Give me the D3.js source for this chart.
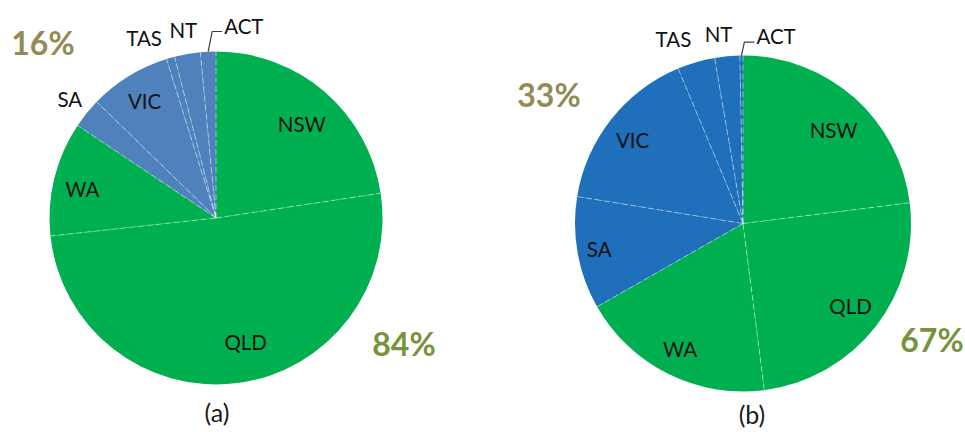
<!DOCTYPE html>
<html><head><meta charset="utf-8">
<script src="https://cdn.jsdelivr.net/npm/d3@7"></script>
<style>
html,body{margin:0;padding:0;background:#fff;}
svg{display:block;}
text{font-family:Lato,"Open Sans",sans-serif;}
</style></head>
<body>
<svg id="c" width="965" height="432"></svg>
<script>
// ---- data ----
const states = ["NSW","QLD","WA","SA","VIC","TAS","NT","ACT"];
const valuesA = [22.6, 50.6, 11.1, 2.9, 7.9, 0.8, 2.5, 1.5];
const valuesB = [23.0, 24.9, 18.75, 10.8, 16.1, 3.6, 2.4, 0.3];
const groupA = ["g","g","g","b","b","b","b","b"];
const totalsA = ["84%", "16%"];
const totalsB = ["67%", "33%"];
const captions = ["(a)", "(b)"];

const svg = d3.select("#c");
const green = "#00B050";

function drawPie(cfg){
  const g = svg.append("g").attr("transform",`translate(${cfg.cx},${cfg.cy})`);
  const data = states.map((s,i)=>({name:s, value:cfg.values[i], grp:groupA[i]}));
  const pie = d3.pie().sort(null).value(d=>d.value).startAngle(0).endAngle(2*Math.PI);
  const arcs = pie(data);
  const arc = d3.arc().innerRadius(0).outerRadius(cfg.r);
  g.selectAll("path.s").data(arcs).join("path")
    .attr("class","s")
    .attr("d",arc)
    .attr("fill",d=>d.data.grp==="g"?green:cfg.blue);
  g.selectAll("line.sep").data(arcs).join("line")
    .attr("x1",0).attr("y1",0)
    .attr("x2",d=>cfg.r*Math.sin(d.startAngle))
    .attr("y2",d=>-cfg.r*Math.cos(d.startAngle))
    .attr("stroke","rgba(255,255,255,0.45)")
    .attr("stroke-width",1)
    .attr("stroke-dasharray","6,3");
  arcs.forEach(d=>{
    const name = d.data.name;
    const mid = (d.startAngle+d.endAngle)/2;
    const lab = cfg.labels[name];
    if(lab.leader){
      const sx = cfg.r*Math.sin(mid), sy = -cfg.r*Math.cos(mid);
      const ey = -cfg.r*lab.rf;
      const ex = sx + lab.dx;
      g.append("polyline")
        .attr("points",`${sx},${sy} ${ex},${ey} ${ex+10},${ey}`)
        .attr("fill","none").attr("stroke","#404040").attr("stroke-width",1.2);
      g.append("text").attr("x",ex+12).attr("y",ey).attr("dy","0.1em")
        .attr("font-size",cfg.fs).attr("fill","#111").text(name);
    } else {
      const a = mid + (lab.da||0)*Math.PI/180;
      const rr = cfg.r*lab.rf;
      g.append("text")
        .attr("x",rr*Math.sin(a)).attr("y",-rr*Math.cos(a))
        .attr("dy","0.35em").attr("text-anchor","middle")
        .attr("font-size",cfg.fs).attr("fill","#111").text(name);
    }
  });
}

drawPie({cx:216, cy:218, r:166.5, values:valuesA, blue:"#4F81BD", fs:20.5,
  labels:{NSW:{rf:0.76,da:2},QLD:{rf:0.77,da:-6},WA:{rf:0.82,da:-2},SA:{rf:1.13},VIC:{rf:0.82},
          TAS:{rf:1.16,da:-6},NT:{rf:1.14},ACT:{leader:true,rf:1.12,dx:4}}});
drawPie({cx:743, cy:223.5, r:168, values:valuesB, blue:"#1F6FBA", fs:20.5,
  labels:{NSW:{rf:0.77,da:3},QLD:{rf:0.81},WA:{rf:0.84},SA:{rf:0.87},VIC:{rf:0.82,da:-1.5},
          TAS:{rf:1.17,da:-4.5},NT:{rf:1.13,da:-2},ACT:{leader:true,rf:1.08,dx:3}}});

const pctStyle = (t)=>t.attr("font-weight","bold").attr("font-size",32).attr("text-anchor","middle");
pctStyle(svg.append("text").attr("x",404).attr("y",356).attr("fill","#77933C").text(totalsA[0]));
pctStyle(svg.append("text").attr("x",43).attr("y",55).attr("fill","#948A54").text(totalsA[1]));
pctStyle(svg.append("text").attr("x",932).attr("y",352).attr("fill","#77933C").text(totalsB[0]));
pctStyle(svg.append("text").attr("x",549).attr("y",107).attr("fill","#948A54").text(totalsB[1]));

svg.append("text").attr("x",217).attr("y",422).attr("text-anchor","middle").attr("font-size",25).attr("fill","#1a1a1a").text(captions[0]);
svg.append("text").attr("x",752).attr("y",424).attr("text-anchor","middle").attr("font-size",25).attr("fill","#1a1a1a").text(captions[1]);
</script>
</body></html>
